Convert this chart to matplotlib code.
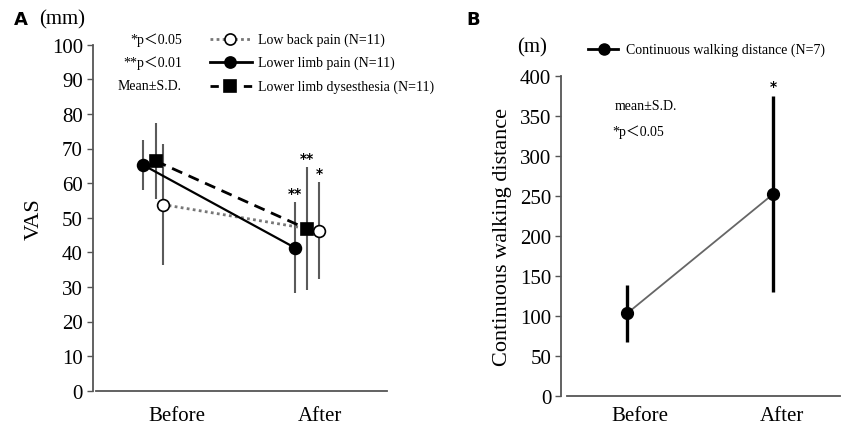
import matplotlib.pyplot as plt
from matplotlib.lines import Line2D

# ---- data ----
categories = ["Before", "After"]

low_back_mean = [53.8, 46.3]      # Low back pain (N=11)
low_back_sd = [17.5, 14.0]
limb_pain_mean = [65.3, 41.3]     # Lower limb pain (N=11)
limb_pain_sd = [7.3, 13.1]
dysesth_mean = [66.4, 46.8]       # Lower limb dysesthesia (N=11)
dysesth_sd = [11.0, 17.8]
vas_stars = ["", "**"], ["", "**"], ["", "*"]   # limb pain, dysesthesia, low back

walk_mean = [103, 252]            # Continuous walking distance (N=7)
walk_sd = [35, 122]
walk_stars = ["", "*"]

# ---- style ----
W, H = 848, 431
serif = ["Liberation Serif", "DejaVu Serif"]
cjk = ["Liberation Serif", "Noto Sans CJK JP"]
plt.rcParams["font.family"] = serif
axis_col = "#555555"
bar_col = "#5a5a5a"

fig = plt.figure(figsize=(W / 100, H / 100), dpi=100)


def fx(px):
    return px / W


def fy(py):
    return 1 - py / H


def style_axes(ax, x0, xpad):
    for s in ("top", "right"):
        ax.spines[s].set_visible(False)
    for s in ("left", "bottom"):
        ax.spines[s].set_color(axis_col)
        ax.spines[s].set_linewidth(1.3)
    ax.spines["bottom"].set_bounds(x0, ax.get_xlim()[1])
    ax.tick_params(axis="y", direction="out", length=4, width=1, color=axis_col,
                   labelsize=15, pad=3)
    ax.tick_params(axis="x", length=0, labelsize=15, pad=xpad)
    ax.set_xticks([1, 2])
    ax.set_xticklabels(categories)


# ================= Panel A =================
axA = fig.add_axes([fx(92.7), fy(391.7), fx(387 - 92.7), (391.7 - 45.7) / H])
axA.set_xlim(0.414, 2.468)
axA.set_ylim(0, 100)
axA.set_yticks(range(0, 101, 10))

x_pain = [0.763, 1.826]
x_dys = [0.853, 1.907]
x_back = [0.902, 1.993]

series = [
    (x_back, low_back_mean, low_back_sd, dict(ls=(0, (1, 1.2)), color="#777777", lw=2.0,
                                               marker="o", mfc="white", mec="black", ms=8.5)),
    (x_pain, limb_pain_mean, limb_pain_sd, dict(ls="-", color="black", lw=1.6,
                                                 marker="o", mfc="black", mec="black", ms=8.5)),
    (x_dys, dysesth_mean, dysesth_sd, dict(ls=(0, (4, 2.5)), color="black", lw=2.0,
                                            marker="s", mfc="black", mec="black", ms=8.5)),
]
for xs, m, sd, st in series:
    axA.errorbar(xs, m, yerr=sd, fmt="none", ecolor=bar_col, elinewidth=1.5, capsize=0, zorder=2)
    axA.plot(xs, m, ls=st["ls"], color=st["color"], lw=st["lw"], zorder=3)
    axA.plot(xs, m, ls="none", marker=st["marker"], mfc=st["mfc"], mec=st["mec"],
             ms=st["ms"], mew=1.2, zorder=4)

for xs, m, sd, stars in [(x_pain, limb_pain_mean, limb_pain_sd, vas_stars[0]),
                         (x_dys, dysesth_mean, dysesth_sd, vas_stars[1]),
                         (x_back, low_back_mean, low_back_sd, vas_stars[2])]:
    for xi, mi, si, s in zip(xs, m, sd, stars):
        if s:
            axA.text(xi, mi + si + 0.6, s, ha="center", va="bottom", fontsize=10,
                     fontweight="bold", family="DejaVu Sans")

style_axes(axA, 0.44, 11)
axA.set_ylabel("VAS", fontsize=16, labelpad=6)

fig.text(fx(14), fy(20), "A", fontsize=13, fontweight="bold", family="DejaVu Sans",
         ha="left", va="center")
fig.text(fx(62), fy(20), "(mm)", fontsize=15, ha="center", va="center")

# legend of panel A, drawn by hand
leg_rows = [
    ("*p＜0.05", (0, (1, 1.2)), "#777777", "o", "white", "Low back pain (N=11)", 40),
    ("**p＜0.01", "-", "black", "o", "black", "Lower limb pain (N=11)", 63),
    ("Mean±S.D.", (0, (3, 3)), "black", "s", "black", "Lower limb dysesthesia (N=11)", 87),
]
for left_txt, ls, col, mk, mfc, lab, ypx in leg_rows:
    fig.text(fx(182), fy(ypx), left_txt, fontsize=10, ha="right", va="center", family=cjk)
    fig.add_artist(Line2D([fx(210), fx(252)], [fy(ypx), fy(ypx)], ls=ls, color=col, lw=2.0))
    fig.add_artist(Line2D([fx(230)], [fy(ypx)], ls="none", marker=mk, mfc=mfc, mec="black",
                          ms=8, mew=1.2))
    fig.text(fx(258), fy(ypx), lab, fontsize=10, ha="left", va="center")

# ================= Panel B =================
axB = fig.add_axes([fx(561), fy(397), fx(840 - 561), (397 - 76.5) / H])
axB.set_xlim(0.4425, 2.411)
axB.set_ylim(0, 400)
axB.set_yticks(range(0, 401, 50))

x_walk = [0.908, 1.939]
axB.errorbar(x_walk, walk_mean, yerr=walk_sd, fmt="none", ecolor="black", elinewidth=2.4,
             capsize=0, zorder=2)
axB.plot(x_walk, walk_mean, ls="-", color="#666666", lw=1.3, zorder=3)
axB.plot(x_walk, walk_mean, ls="none", marker="o", mfc="black", mec="black", ms=8.5, zorder=4)
for xi, mi, si, s in zip(x_walk, walk_mean, walk_sd, walk_stars):
    if s:
        axB.text(xi, mi + si + 4, s, ha="center", va="bottom", fontsize=10,
                 fontweight="bold", family="DejaVu Sans")

style_axes(axB, 0.485, 7)
axB.set_ylabel("Continuous walking distance", fontsize=16, labelpad=6)

fig.text(fx(466), fy(20), "B", fontsize=13, fontweight="bold", family="DejaVu Sans",
         ha="left", va="center")
fig.text(fx(532), fy(48), "(m)", fontsize=15, ha="center", va="center")
fig.add_artist(Line2D([fx(588), fx(618)], [fy(50), fy(50)], color="black", lw=2.0))
fig.add_artist(Line2D([fx(604)], [fy(50)], ls="none", marker="o", mfc="black", mec="black", ms=8))
fig.text(fx(626), fy(50), "Continuous walking distance (N=7)", fontsize=10, ha="left", va="center")
fig.text(fx(615), fy(106), "mean±S.D.", fontsize=10, ha="left", va="center")
fig.text(fx(612), fy(132), "*p＜0.05", fontsize=10, ha="left", va="center", family=cjk)

fig.savefig("out.png", dpi=100)
